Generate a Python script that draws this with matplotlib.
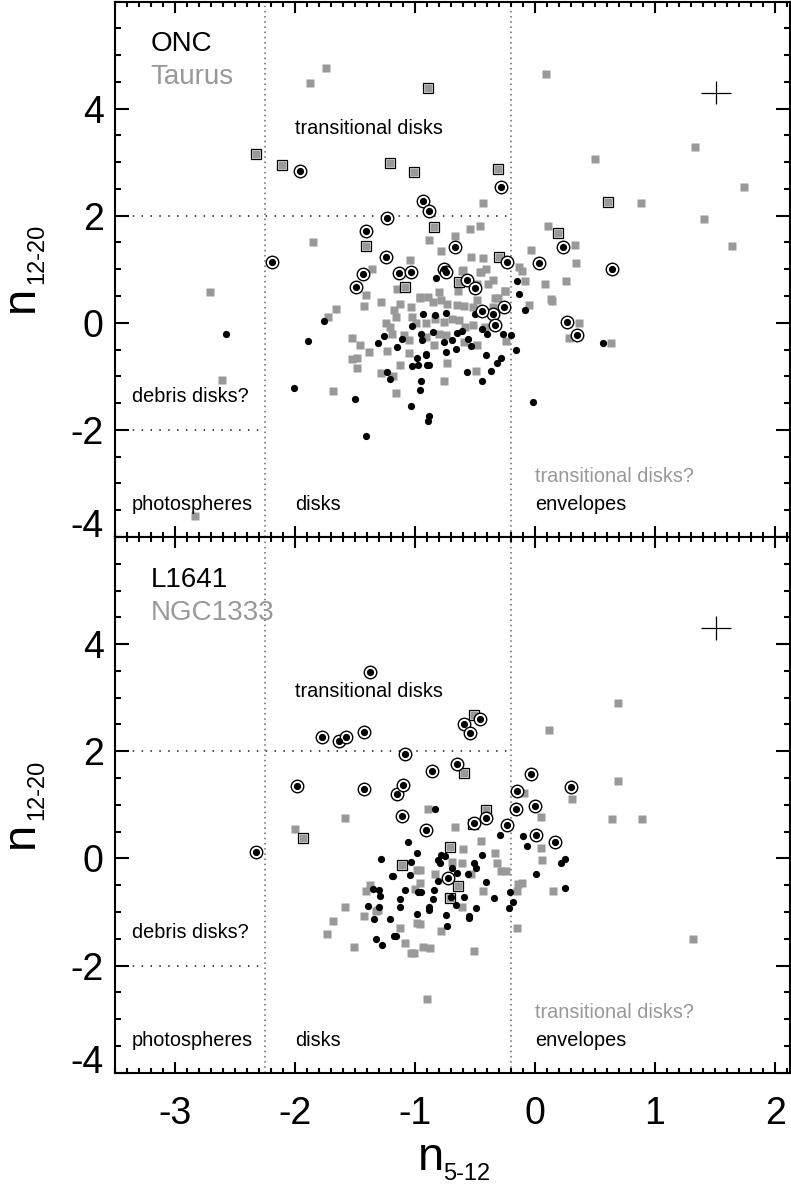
import matplotlib
matplotlib.use("Agg")
import matplotlib.pyplot as plt
from matplotlib.ticker import MultipleLocator

plt.rcParams['font.family'] = ['Liberation Sans', 'DejaVu Sans']
plt.rcParams['axes.unicode_minus'] = False

GRAY = '#999999'

# ---- upper panel: ONC (black) and Taurus (gray) ----
top_sq = [(-1.87, 4.48), (-1.74, 4.76), (0.09, 4.65), (1.33, 3.28), (0.50, 3.06), (1.74, 2.54),
          (0.88, 2.24), (1.41, 1.94), (1.64, 1.44), (-1.85, 1.51), (-1.36, 1.01), (-2.71, 0.57),
          (-2.61, -1.07), (-2.83, -3.60), (-0.43, 2.23), (0.11, 1.81), (0.33, 1.46), (-0.46, 1.80),
          (-0.54, 1.75), (-0.67, 1.62), (-0.88, 1.54), (-0.78, 1.34), (-0.03, 1.36), (0.34, 1.12),
          (0.26, 0.78), (-0.53, 1.23), (-0.43, 1.21), (-1.04, 1.18), (-0.61, 0.97), (-0.46, 0.95),
          (-0.41, 1.01), (-0.35, 0.80), (-0.39, 0.72), (-0.13, 1.04), (-0.11, 0.97), (-0.08, 0.78),
          (0.08, 0.72), (0.14, 0.40), (-0.05, 0.33), (0.28, -0.28), (0.37, 0.00), (0.63, -0.37),
          (-0.24, -0.34), (-0.25, 0.60), (-0.33, 0.46), (-0.49, -0.90), (-0.73, -0.75), (-0.76, -1.08),
          (-1.15, 0.64), (-1.41, 0.52), (-1.42, 0.32), (-1.28, 0.39), (-1.66, 0.26), (-1.72, 0.11),
          (-1.68, -1.27), (-1.16, -1.32), (-1.28, -0.94), (-1.18, -0.99), (-1.48, -0.85), (-1.52, -0.68),
          (-1.48, -0.66), (-1.38, -0.54), (-1.46, -0.42), (-1.52, -0.29), (-1.23, -0.53), (-1.19, -0.20),
          (-1.21, -0.07), (-1.24, -0.01), (-1.16, 0.11), (-1.17, 0.24), (-1.12, 0.36), (-1.03, 0.30),
          (-0.96, 0.46), (-1.05, -0.32), (-1.09, -0.23), (-1.05, -0.57), (-1.12, -0.79), (-1.02, 0.11),
          (-0.99, -0.01), (-0.89, 0.49), (-0.80, 0.58), (-0.78, 0.42), (-0.85, 0.39), (-0.73, 0.36),
          (-0.65, 0.33), (-0.59, 0.31), (-0.52, 0.30), (-0.48, 0.42), (-0.91, -0.01), (-0.83, 0.08),
          (-0.76, 0.02), (-0.69, 0.08), (-0.63, 0.05), (-0.58, -0.07), (-0.52, -0.04), (-0.80, -0.20),
          (-0.74, -0.23), (-0.91, -0.26), (-0.84, -0.42), (-0.59, -0.35), (-0.48, -0.42), (-0.42, -0.07),
          (-0.35, 0.30), (-0.31, 0.46), (-0.60, 0.98), (-0.45, 0.95), (-0.48, 0.73), (-0.64, 0.60),
          (-0.96, 0.49), (-0.25, 0.59), (0.13, 0.44)]
top_box = [(-2.32, 3.15), (-2.11, 2.95), (-1.21, 2.98), (-0.89, 4.38), (-1.01, 2.82), (-0.31, 2.87),
           (0.61, 2.26), (-1.41, 1.43), (-0.84, 1.79), (0.19, 1.67), (-0.30, 1.22), (-1.08, 0.67),
           (-0.63, 0.77)]
top_dot = [(-2.57, -0.20), (-1.76, 0.03), (-1.89, -0.34), (-2.01, -1.22), (-1.50, -1.43), (-1.41, -2.11),
           (-1.03, -1.56), (-0.96, -1.26), (-0.95, -1.08), (-1.23, -0.92), (-1.21, -1.05), (-1.31, -0.38),
           (-1.26, -0.24), (-1.15, -0.46), (-1.11, -0.31), (-0.93, 0.17), (-1.02, -0.06), (-0.95, -0.21),
           (-0.94, -0.32), (-0.98, -0.65), (-1.02, -0.80), (-0.97, -0.78), (-0.91, -0.59), (-0.90, -0.79),
           (-0.82, 0.84), (-0.15, 0.78), (-0.13, 0.54), (-0.08, 0.23), (-0.02, -1.47), (-0.16, -0.50),
           (-0.20, -0.23), (-0.50, 0.17), (-0.27, -0.20), (-0.44, -0.12), (-0.40, -0.20), (-0.28, -0.66),
           (-0.32, -0.76), (-0.37, -0.90), (-0.41, -0.61), (-0.44, -1.08), (-0.57, -0.91), (-0.88, -0.78),
           (-0.91, -0.60), (-0.88, -1.74), (-0.89, -1.83), (-0.53, -0.43), (-0.56, -0.31), (-0.66, -0.48),
           (-0.69, -0.32), (-0.74, -0.54), (-0.76, -0.36), (-0.85, -0.18), (-0.65, -0.19), (-0.61, -0.15),
           (-0.83, 0.14), (-0.74, 0.19), (0.57, -0.38)]
top_ring = [(-1.96, 2.83), (-1.23, 1.96), (-1.41, 1.72), (-2.19, 1.13), (-1.24, 1.23), (-1.43, 0.91),
            (-1.49, 0.66), (-1.13, 0.93), (-1.03, 0.95), (-0.28, 2.54), (-0.93, 2.28), (-0.88, 2.08),
            (0.23, 1.41), (-0.67, 1.42), (0.03, 1.11), (0.64, 1.01), (-0.23, 1.13), (-0.76, 1.00),
            (-0.74, 0.95), (-0.57, 0.80), (-0.50, 0.65), (0.27, 0.01), (0.35, -0.22), (-0.26, 0.29),
            (-0.35, 0.17), (-0.33, -0.04), (-0.44, 0.22)]

# ---- lower panel: L1641 (black) and NGC1333 (gray) ----
bot_sq = [(0.69, 2.90), (0.12, 2.39), (0.69, 1.45), (0.31, 1.10), (-0.09, 1.22), (-2.00, 0.54),
          (-1.58, 0.75), (-1.37, -0.49), (-1.41, -0.61), (-1.58, -0.90), (-1.42, -1.08), (-1.68, -1.16),
          (-1.73, -1.42), (-1.51, -1.66), (-1.31, -0.96), (-1.32, -0.98), (-0.98, -0.22), (-1.00, -0.58),
          (-0.98, -1.21), (-1.12, -1.29), (-1.08, -1.57), (-1.03, -1.76), (-1.01, -1.76), (0.05, 0.78),
          (-0.67, 0.59), (-0.89, 0.92), (0.05, 0.20), (0.06, -0.03), (0.15, -0.60), (-0.45, 0.32),
          (-0.60, 0.17), (-0.69, -0.06), (-0.61, -0.09), (-0.33, 0.10), (-0.32, -0.08), (-0.28, -0.23),
          (-0.24, -0.23), (-0.96, -0.22), (-0.83, -0.30), (-0.53, -0.30), (-0.96, -0.45), (-0.43, -0.60),
          (-0.14, -0.47), (-0.11, -0.45), (-0.15, -0.60), (-0.61, -0.90), (-0.96, -1.23), (-0.78, -1.35),
          (-0.15, -1.29), (-0.93, -1.65), (-0.87, -1.67), (-0.51, -1.72), (-0.90, -2.62), (1.32, -1.50),
          (0.64, 0.73), (0.89, 0.74)]
bot_box = [(-0.51, 2.67), (-0.59, 1.60), (-1.93, 0.38), (-1.11, -0.13), (-0.41, 0.90), (-0.52, 0.64),
           (-0.71, 0.22), (-0.64, -0.52), (-0.71, -0.73)]
bot_dot = [(-1.28, -0.01), (-1.19, -0.32), (-1.35, -0.57), (-1.30, -0.59), (-1.29, -0.70), (-1.39, -0.89),
           (-1.30, -0.90), (-1.34, -1.14), (-1.21, -1.14), (-1.32, -1.51), (-1.27, -1.62), (-1.16, -1.44),
           (-1.06, 0.30), (-0.98, 0.10), (-1.03, -0.06), (-1.18, -0.33), (-1.04, -0.31), (-1.08, -0.59),
           (-0.97, -0.62), (-1.12, -0.75), (-1.12, -0.90), (-0.98, -1.04), (-1.17, -1.44), (-0.83, 0.92),
           (-0.10, 0.42), (-0.07, 0.24), (0.25, -0.01), (0.22, -0.08), (0.25, -0.55), (0.01, -0.30),
           (-0.29, 0.43), (-0.78, 0.06), (-0.75, 0.04), (-0.81, -0.03), (-0.79, -0.09), (-0.69, -0.17),
           (-0.51, -0.09), (-0.49, -0.17), (-0.44, 0.06), (-0.65, -0.28), (-0.56, -0.30), (-0.81, -0.43),
           (-0.41, -0.44), (-0.95, -0.62), (-0.84, -0.59), (-0.70, -0.72), (-0.66, -0.87), (-0.59, -0.72),
           (-0.34, -0.73), (-0.21, -0.62), (-0.18, -0.81), (-0.22, -0.92), (-0.85, -0.75), (-0.88, -0.90),
           (-0.88, -0.96), (-0.74, -1.06), (-0.73, -1.26), (-0.49, -0.92), (-0.55, -1.07), (-0.55, -1.12)]
bot_ring = [(-1.37, 3.48), (-1.77, 2.26), (-1.63, 2.19), (-1.57, 2.27), (-1.42, 2.36), (-1.98, 1.36),
            (-1.42, 1.30), (-1.15, 1.20), (-0.46, 2.60), (-0.59, 2.50), (-0.54, 2.34), (-1.08, 1.95),
            (-0.86, 1.64), (-0.65, 1.76), (-1.10, 1.37), (-0.03, 1.57), (0.30, 1.34), (-0.15, 1.26),
            (0.00, 0.98), (-0.16, 0.93), (-2.32, 0.12), (-1.11, 0.79), (-0.41, 0.76), (-0.51, 0.66),
            (-0.23, 0.63), (-0.91, 0.53), (0.01, 0.44), (0.17, 0.30), (-0.72, -0.36)]

# typical error bar
err_x, err_y = 1.51, 4.30
err_dx, err_dy = 0.125, 0.22

x_ticks = [-3, -2, -1, 0, 1, 2]
y_ticks = [-4, -2, 0, 2, 4]

W, H = 791, 1186
fig = plt.figure(figsize=(W / 100, H / 100), dpi=100)


def fx(px):
    return px / W


def fy(py):
    return 1 - py / H


left, right = fx(114.7), fx(789.5)
ax_top = fig.add_axes([left, fy(537), right - left, fy(1.5) - fy(537)])
ax_bot = fig.add_axes([left, fy(1072.7), right - left, fy(537) - fy(1072.7)])


def draw_panel(ax, sq, box, dot, ring, name1, name2, trans_y, xlabels):
    ax.set_xlim(-3.5, 2.12)
    ax.set_ylim(-4, 6)
    vdots = (0, (1, 2.4))
    hdots = (0, (1, 4.8))
    ax.axvline(-2.25, color='0.4', ls=vdots, lw=1.1, zorder=1)
    ax.axvline(-0.2, color='0.4', ls=vdots, lw=1.1, zorder=1)
    ax.plot([-3.5, -0.2], [2, 2], color='0.1', ls=hdots, lw=1.1, zorder=1)
    ax.plot([-3.5, -2.25], [-2, -2], color='0.1', ls=hdots, lw=1.1, zorder=1)

    xs, ys = zip(*sq)
    ax.plot(xs, ys, 's', ms=5.8, mfc=GRAY, mec='none', zorder=2)
    # boxed sources: open black square with a gray square inside
    xs, ys = zip(*box)
    ax.plot(xs, ys, 's', ms=7.6, mfc='white', mec='black', mew=0.9, zorder=3)
    ax.plot(xs, ys, 's', ms=5.6, mfc=GRAY, mec='none', zorder=3)
    xs, ys = zip(*dot)
    ax.plot(xs, ys, 'o', ms=5.2, mfc='black', mec='none', zorder=4)
    # circled sources: open ring around a black dot
    xs, ys = zip(*ring)
    ax.plot(xs, ys, 'o', ms=9.0, mfc='white', mec='black', mew=1.0, zorder=4)
    ax.plot(xs, ys, 'o', ms=5.2, mfc='black', mec='none', zorder=5)

    ax.errorbar(err_x, err_y, xerr=err_dx, yerr=err_dy, fmt='none', ecolor='black',
                elinewidth=0.9, capsize=0)

    ax.text(-3.2, 5.2, name1, fontsize=20, va='center', color='black')
    ax.text(-3.2, 4.59, name2, fontsize=20, va='center', color=GRAY)
    ax.text(-2.0, trans_y, 'transitional disks', fontsize=14.3, va='center')
    ax.text(-3.36, -1.38, 'debris disks?', fontsize=14.3, va='center')
    ax.text(-3.36, -3.39, 'photospheres', fontsize=14.3, va='center')
    ax.text(-2.0, -3.39, 'disks', fontsize=14.3, va='center')
    ax.text(0.0, -2.87, 'transitional disks?', fontsize=14.3, va='center', color=GRAY)
    ax.text(0.0, -3.39, 'envelopes', fontsize=14.3, va='center')

    ax.set_xticks(x_ticks)
    ax.set_yticks(y_ticks)
    ax.xaxis.set_minor_locator(MultipleLocator(0.1))
    ax.yaxis.set_minor_locator(MultipleLocator(0.5))
    ax.tick_params(which='both', direction='in', top=True, right=True, width=1.5)
    ax.tick_params(axis='x', which='major', length=8)
    ax.tick_params(axis='x', which='minor', length=3.3)
    ax.tick_params(axis='y', which='major', length=10)
    ax.tick_params(axis='y', which='minor', length=4.5)
    ax.tick_params(axis='y', labelsize=27, pad=8)
    ax.tick_params(axis='x', labelsize=27, pad=17, labelbottom=xlabels)
    ax.set_yticklabels([str(v) for v in y_ticks])
    ax.set_xticklabels([str(v) for v in x_ticks])
    # lowest label sits on its tick, as in the original
    ax.get_yticklabels()[0].set_va('baseline')
    for s in ax.spines.values():
        s.set_linewidth(1.5)


draw_panel(ax_top, top_sq, top_box, top_dot, top_ring, 'ONC', 'Taurus', 3.63, False)
draw_panel(ax_bot, bot_sq, bot_box, bot_dot, bot_ring, 'L1641', 'NGC1333', 3.11, True)

# axis labels built from a main letter plus a smaller subscript
for off in (0, 536):
    fig.text(fx(33), fy(312 + off), 'n', fontsize=34, rotation=90,
             rotation_mode='anchor', ha='left', va='baseline')
    fig.text(fx(43), fy(284 + off), '12-20', fontsize=17, rotation=90,
             rotation_mode='anchor', ha='left', va='baseline')
fig.text(fx(418), fy(1170), 'n', fontsize=34, ha='left', va='baseline')
fig.text(fx(443), fy(1180), '5-12', fontsize=17, ha='left', va='baseline')

fig.savefig('out.png', dpi=100)
